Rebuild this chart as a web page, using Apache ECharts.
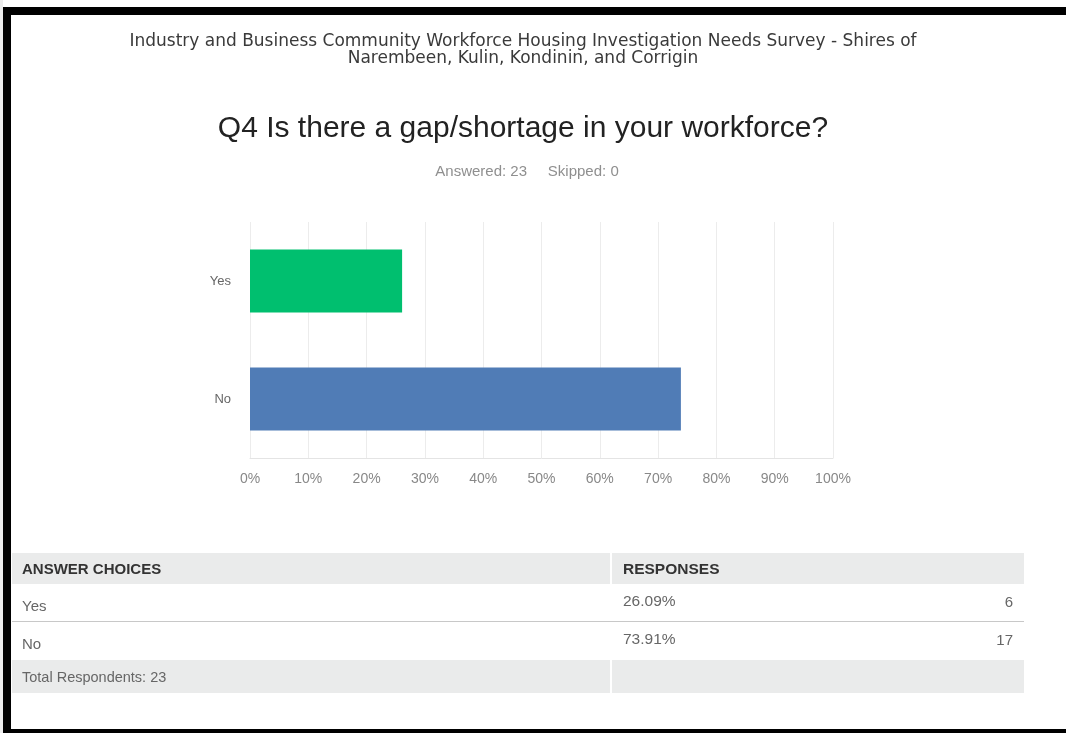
<!DOCTYPE html>
<html>
<head>
<meta charset="utf-8">
<script src="https://cdn.jsdelivr.net/npm/echarts@6/dist/echarts.min.js"></script>
<style>
  html, body { margin: 0; padding: 0; background: #fff; }
  #chart { width: 1066px; height: 733px; }
</style>
</head>
<body>
<div id="chart"></div>
<script>
// Survey question data
const surveyTitleLines = [
  'Industry and Business Community Workforce Housing Investigation Needs Survey - Shires of',
  'Narembeen, Kulin, Kondinin, and Corrigin'
];
const questionTitle = 'Q4 Is there a gap/shortage in your workforce?';
const answered = 23;
const skipped = 0;
const categories = ['Yes', 'No'];
const percentages = [26.09, 73.91];
const counts = [6, 17];
const barColors = ['#00bf6f', '#507cb6'];
const xTicks = [0, 10, 20, 30, 40, 50, 60, 70, 80, 90, 100];

const chart = echarts.init(document.getElementById('chart'));

const W = 1066;
const centerX = 523;
const tableLeft = 12, tableRight = 1024, colSplit = 610;
const headerTop = 553, headerH = 31, rowH = 38;
const sans = '"Liberation Sans", Arial, sans-serif';

const graphics = [];
// frame
graphics.push({ type: 'rect', shape: { x: 0, y: 0, width: 3, height: 733 }, style: { fill: '#ececec' }, z: 10 });
graphics.push({ type: 'rect', shape: { x: 3, y: 7, width: W - 3, height: 8 }, style: { fill: '#000' }, z: 10 });
graphics.push({ type: 'rect', shape: { x: 3, y: 7, width: 8, height: 733 - 7 }, style: { fill: '#000' }, z: 10 });
graphics.push({ type: 'rect', shape: { x: 3, y: 729, width: W - 3, height: 4 }, style: { fill: '#000' }, z: 10 });

// headings
surveyTitleLines.forEach((line, i) => {
  graphics.push({ type: 'text', x: centerX, y: 42 + i * 17, style: { text: line, font: '17px "DejaVu Sans", sans-serif', fill: '#3a3a3a', align: 'center', verticalAlign: 'middle' } });
});
graphics.push({ type: 'text', x: centerX, y: 129, style: { text: questionTitle, font: '30px ' + sans, fill: '#222', align: 'center', verticalAlign: 'middle' } });
graphics.push({ type: 'text', x: 527, y: 172, style: { text: 'Answered: ' + answered + '     Skipped: ' + skipped, font: '15px ' + sans, fill: '#8f8f8f', align: 'center', verticalAlign: 'middle' } });

// response table
const rowTop0 = headerTop + headerH;
const totalTop = rowTop0 + rowH * categories.length;
graphics.push({ type: 'rect', shape: { x: tableLeft, y: headerTop, width: tableRight - tableLeft, height: headerH }, style: { fill: '#eaebeb' } });
graphics.push({ type: 'rect', shape: { x: tableLeft, y: totalTop, width: tableRight - tableLeft, height: 33 }, style: { fill: '#eaebeb' } });
graphics.push({ type: 'rect', shape: { x: colSplit, y: headerTop, width: 2, height: headerH }, style: { fill: '#fff' } });
graphics.push({ type: 'rect', shape: { x: colSplit, y: totalTop, width: 2, height: 33 }, style: { fill: '#fff' } });
graphics.push({ type: 'text', x: 22, y: 570, style: { text: 'ANSWER CHOICES', font: 'bold 15px ' + sans, fill: '#333', verticalAlign: 'middle' } });
graphics.push({ type: 'text', x: 623, y: 570, style: { text: 'RESPONSES', font: 'bold 15.5px ' + sans, fill: '#333', verticalAlign: 'middle' } });
categories.forEach((c, i) => {
  const top = rowTop0 + i * rowH;
  graphics.push({ type: 'text', x: 22, y: top + 23, style: { text: c, font: '15px ' + sans, fill: '#666', verticalAlign: 'middle' } });
  graphics.push({ type: 'text', x: 623, y: top + 18, style: { text: percentages[i].toFixed(2) + '%', font: '15.5px ' + sans, fill: '#666', verticalAlign: 'middle' } });
  graphics.push({ type: 'text', x: 1013, y: top + 19, style: { text: String(counts[i]), font: '15px ' + sans, fill: '#666', align: 'right', verticalAlign: 'middle' } });
  if (i < categories.length - 1) {
    graphics.push({ type: 'rect', shape: { x: tableLeft, y: top + rowH - 1, width: tableRight - tableLeft, height: 1 }, style: { fill: '#c8c8c8' } });
  }
});
graphics.push({ type: 'text', x: 22, y: totalTop + 18, style: { text: 'Total Respondents: ' + answered, font: '14.5px ' + sans, fill: '#666', verticalAlign: 'middle' } });

chart.setOption({
  animation: false,
  backgroundColor: '#fff',
  grid: { left: 250, right: 233, top: 222, bottom: 275, containLabel: false },
  xAxis: {
    type: 'value', min: 0, max: 100, interval: 10,
    axisLine: { show: true, lineStyle: { color: '#e4e4e4' } },
    axisTick: { show: false },
    splitLine: { show: true, lineStyle: { color: '#ececec' } },
    axisLabel: {
      formatter: v => (xTicks.includes(v) ? v + '%' : ''),
      color: '#888', fontSize: 14, margin: 14,
      fontFamily: sans
    }
  },
  yAxis: {
    type: 'category', data: categories, inverse: true,
    axisLine: { show: false }, axisTick: { show: false },
    axisLabel: { color: '#666', fontSize: 13, margin: 19, fontFamily: sans }
  },
  series: [{
    type: 'bar',
    barWidth: '53.5%',
    data: percentages.map((v, i) => ({ value: v, itemStyle: { color: barColors[i] } }))
  }],
  graphic: graphics
});
</script>
</body>
</html>
